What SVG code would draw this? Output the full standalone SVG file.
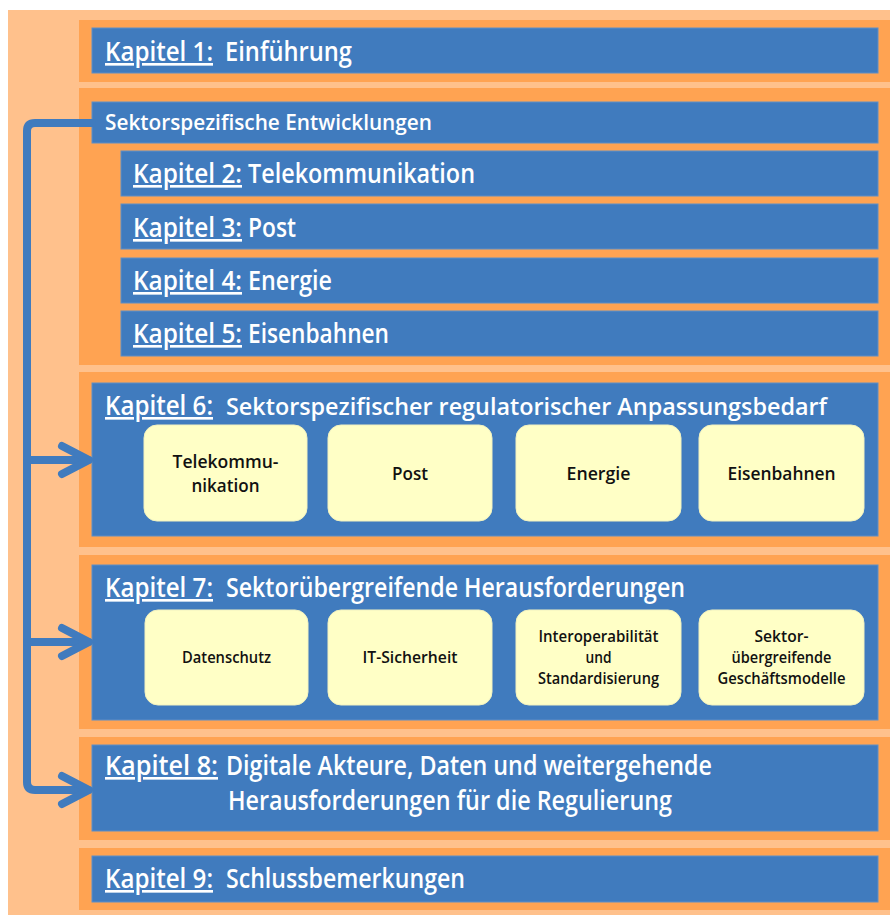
<svg xmlns="http://www.w3.org/2000/svg" width="890" height="917" viewBox="0 0 890 917">
<style>
.bg{fill:#FFC18C}
.or{fill:#FFA352}
.bl{fill:#407BBE;stroke:#5F8FC6;stroke-width:1}
.ye{fill:#FFFFC6;stroke:#F2F2C0;stroke-width:1}
.h{font-family:"Open Sans","Liberation Sans",sans-serif;font-weight:600;fill:#FFFFFF;font-size:26.5px}
.hs{font-size:21px}
.hn{font-size:24px}
.u{text-decoration:underline}
.b{font-family:"Open Sans","Liberation Sans",sans-serif;font-weight:600;fill:#111111;text-anchor:middle}
.b17{font-size:18px}
.b15{font-size:15.5px}
.con{fill:none;stroke:#407BBE;stroke-width:8;stroke-linecap:round;stroke-linejoin:round}
</style>
<rect x="0" y="0" width="890" height="917" fill="#FFFFFF"/>
<rect class="bg" x="8" y="10" width="882" height="905"/>

<g id="kap1">
<rect class="or" x="79" y="20" width="811" height="62"/>
<rect class="bl" x="92" y="28" width="786" height="45"/>
<text class="h u" x="105" y="61" textLength="108" lengthAdjust="spacingAndGlyphs">Kapitel 1:</text>
<text class="h" x="225" y="61" textLength="127" lengthAdjust="spacingAndGlyphs">Einführung</text>
</g>

<g id="sektor">
<rect class="or" x="79" y="88" width="811" height="277"/>
<rect class="bl" x="92" y="102" width="786" height="41"/>
<text class="h hs" x="105" y="130" textLength="327" lengthAdjust="spacingAndGlyphs">Sektorspezifische Entwicklungen</text>
</g>

<g id="kap2">
<rect class="bl" x="121" y="151" width="757" height="45"/>
<text class="h u" x="133" y="183" textLength="109" lengthAdjust="spacingAndGlyphs">Kapitel 2:</text>
<text class="h" x="248" y="183" textLength="227" lengthAdjust="spacingAndGlyphs">Telekommunikation</text>
</g>
<g id="kap3">
<rect class="bl" x="121" y="204" width="757" height="45"/>
<text class="h u" x="133" y="237" textLength="109" lengthAdjust="spacingAndGlyphs">Kapitel 3:</text>
<text class="h" x="248" y="237" textLength="48" lengthAdjust="spacingAndGlyphs">Post</text>
</g>
<g id="kap4">
<rect class="bl" x="121" y="258" width="757" height="45"/>
<text class="h u" x="133" y="290" textLength="109" lengthAdjust="spacingAndGlyphs">Kapitel 4:</text>
<text class="h" x="248" y="290" textLength="84" lengthAdjust="spacingAndGlyphs">Energie</text>
</g>
<g id="kap5">
<rect class="bl" x="121" y="311" width="757" height="45"/>
<text class="h u" x="133" y="343" textLength="109" lengthAdjust="spacingAndGlyphs">Kapitel 5:</text>
<text class="h" x="248" y="343" textLength="141" lengthAdjust="spacingAndGlyphs">Eisenbahnen</text>
</g>

<g id="kap6">
<rect class="or" x="79" y="372" width="811" height="175"/>
<rect class="bl" x="92" y="383" width="786" height="153"/>
<text class="h u" x="105" y="415" textLength="108" lengthAdjust="spacingAndGlyphs">Kapitel 6:</text>
<text class="h hn" x="226" y="415" textLength="601" lengthAdjust="spacingAndGlyphs">Sektorspezifischer regulatorischer Anpassungsbedarf</text>
</g>
<g id="k6-tele">
<rect class="ye" x="144" y="425" width="163" height="96" rx="13"/>
<text class="b b17" x="225.5" y="468" textLength="106" lengthAdjust="spacingAndGlyphs">Telekommu-</text>
<text class="b b17" x="225.5" y="492" textLength="68" lengthAdjust="spacingAndGlyphs">nikation</text>
</g>
<g id="k6-post">
<rect class="ye" x="328" y="425" width="164" height="96" rx="13"/>
<text class="b b17" x="410" y="480" textLength="36" lengthAdjust="spacingAndGlyphs">Post</text>
</g>
<g id="k6-energie">
<rect class="ye" x="516" y="425" width="165" height="96" rx="13"/>
<text class="b b17" x="598.5" y="480" textLength="64" lengthAdjust="spacingAndGlyphs">Energie</text>
</g>
<g id="k6-eisen">
<rect class="ye" x="699" y="425" width="165" height="96" rx="13"/>
<text class="b b17" x="781.5" y="480" textLength="108" lengthAdjust="spacingAndGlyphs">Eisenbahnen</text>
</g>

<g id="kap7">
<rect class="or" x="79" y="555" width="811" height="174"/>
<rect class="bl" x="92" y="565" width="786" height="155"/>
<text class="h u" x="105" y="597" textLength="108" lengthAdjust="spacingAndGlyphs">Kapitel 7:</text>
<text class="h" x="226" y="597" textLength="459" lengthAdjust="spacingAndGlyphs">Sektorübergreifende Herausforderungen</text>
</g>
<g id="k7-daten">
<rect class="ye" x="145" y="610" width="163" height="95" rx="13"/>
<text class="b b15" x="226.5" y="663" textLength="89" lengthAdjust="spacingAndGlyphs">Datenschutz</text>
</g>
<g id="k7-it">
<rect class="ye" x="328" y="610" width="164" height="95" rx="13"/>
<text class="b b15" x="410" y="663" textLength="95" lengthAdjust="spacingAndGlyphs">IT-Sicherheit</text>
</g>
<g id="k7-interop">
<rect class="ye" x="516" y="610" width="165" height="95" rx="13"/>
<text class="b b15" x="598.5" y="642" textLength="120" lengthAdjust="spacingAndGlyphs">Interoperabilität</text>
<text class="b b15" x="598.5" y="663" textLength="26" lengthAdjust="spacingAndGlyphs">und</text>
<text class="b b15" x="598.5" y="684" textLength="121" lengthAdjust="spacingAndGlyphs">Standardisierung</text>
</g>
<g id="k7-geschaeft">
<rect class="ye" x="699" y="610" width="165" height="95" rx="13"/>
<text class="b b15" x="781.5" y="642" textLength="54" lengthAdjust="spacingAndGlyphs">Sektor-</text>
<text class="b b15" x="781.5" y="663" textLength="100" lengthAdjust="spacingAndGlyphs">übergreifende</text>
<text class="b b15" x="781.5" y="684" textLength="128" lengthAdjust="spacingAndGlyphs">Geschäftsmodelle</text>
</g>

<g id="kap8">
<rect class="or" x="79" y="737" width="811" height="103"/>
<rect class="bl" x="92" y="745" width="786" height="86"/>
<text class="h u" x="105" y="775" textLength="113" lengthAdjust="spacingAndGlyphs">Kapitel 8:</text>
<text class="h" x="226" y="775" textLength="486" lengthAdjust="spacingAndGlyphs">Digitale Akteure, Daten und weitergehende</text>
<text class="h" x="228" y="810" textLength="444" lengthAdjust="spacingAndGlyphs">Herausforderungen für die Regulierung</text>
</g>

<g id="kap9">
<rect class="or" x="79" y="848" width="811" height="62"/>
<rect class="bl" x="92" y="856" width="786" height="46"/>
<text class="h u" x="105" y="888" textLength="108" lengthAdjust="spacingAndGlyphs">Kapitel 9:</text>
<text class="h" x="226" y="888" textLength="239" lengthAdjust="spacingAndGlyphs">Schlussbemerkungen</text>
</g>

<g id="connectors">
<path class="con" d="M92,123 H35 Q27,123 27,131 V782 Q27,790 35,790 H88"/>
<path class="con" d="M27,460 H88"/>
<path class="con" d="M27,642 H88"/>
<polyline class="con" points="62,446 89,460 62,474"/>
<polyline class="con" points="62,628 89,642 62,656"/>
<polyline class="con" points="62,776 89,790 62,804"/>
</g>
</svg>
